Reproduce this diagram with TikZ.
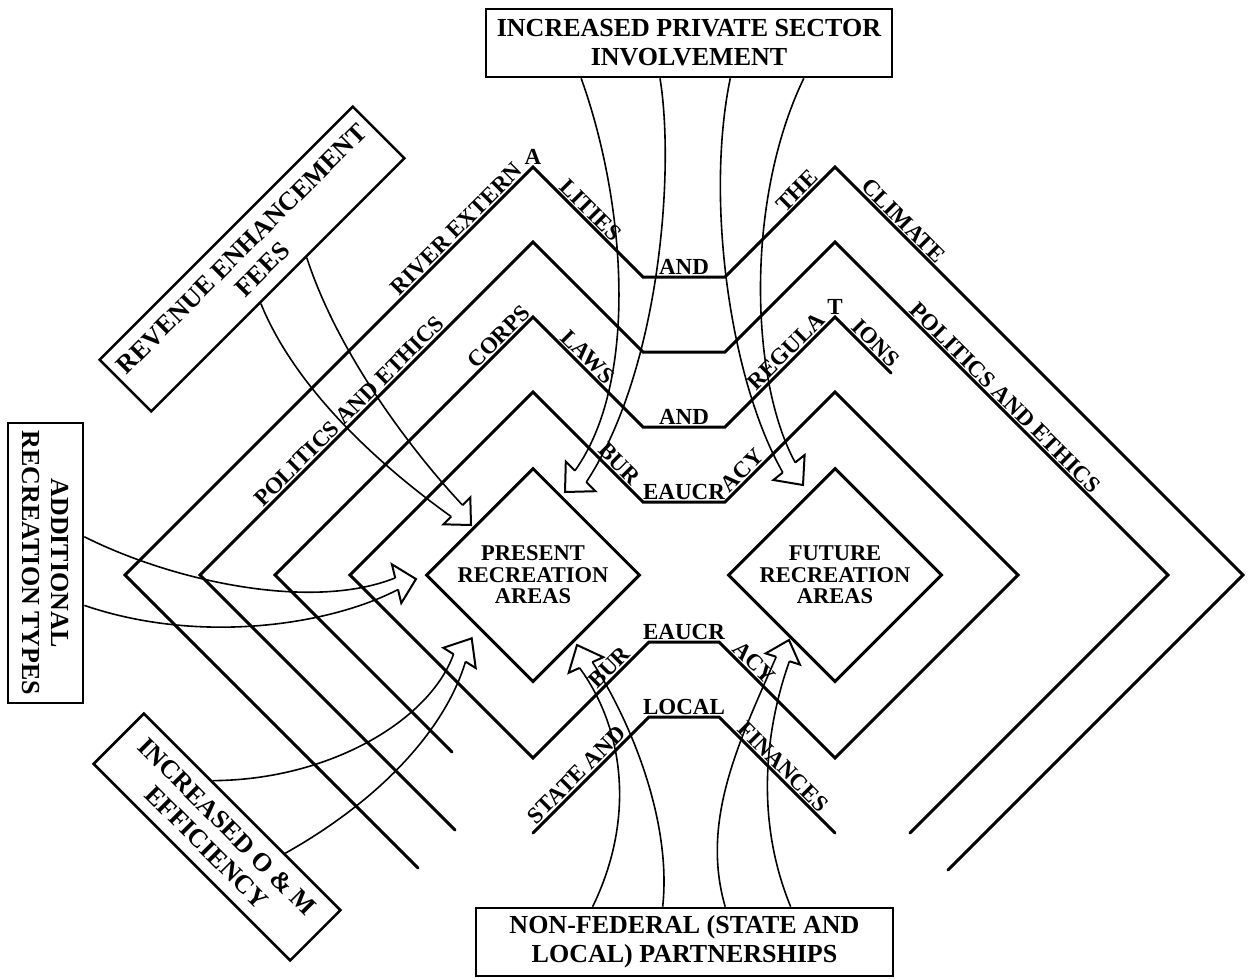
\documentclass[tikz,border=0pt]{standalone}
\usepackage{fontspec}
\setmainfont{Liberation Serif}
\usetikzlibrary{calc,shapes.geometric}
\begin{document}
\begin{tikzpicture}[x=1pt,y=-1pt,
  ring/.style={line width=3pt, line join=miter, line cap=round},
  boxn/.style={draw, line width=2.6pt, font=\fontsize{26}{29}\selectfont\bfseries, align=center, inner sep=2pt},
  lab/.style={font=\fontsize{23}{25}\selectfont\bfseries, inner sep=2.5pt},
  shaft/.style={line width=1.6pt},
  head/.style={line width=2pt, line join=miter},
  dia/.style={diamond, aspect=1, draw, line width=3pt, minimum size=214pt, inner sep=0pt, align=center, font=\fontsize{22.5}{21.5}\selectfont\bfseries}
]
\useasboundingbox (0,0) rectangle (1249,978);

% centres
\coordinate (P) at (533,575);
\coordinate (F) at (835,575);

% ring 1 (bureaucracy)
\coordinate (r1L) at (350,575);
\coordinate (r1TP) at (533,392);
\coordinate (r1a) at (643,502);
\coordinate (r1b) at (725,502);
\coordinate (r1TF) at (835,392);
\coordinate (r1R) at (1018,575);
\coordinate (r1BF) at (835,758);
\coordinate (r1c) at (719,642);
\coordinate (r1d) at (649,642);
\coordinate (r1BP) at (533,758);
% ring 2
\coordinate (r2e) at (452,752);
\coordinate (r2L) at (275,575);
\coordinate (r2TP) at (533,317);
\coordinate (r2a) at (643,427);
\coordinate (r2b) at (725,427);
\coordinate (r2TF) at (835,317);
\coordinate (r2s) at (891,373);
\coordinate (r2BP) at (533,833);
\coordinate (r2d) at (649,717);
\coordinate (r2c) at (719,717);
\coordinate (r2BF) at (835,833);
% ring 3
\coordinate (r3e) at (455,830);
\coordinate (r3L) at (200,575);
\coordinate (r3TP) at (533,242);
\coordinate (r3a) at (643,352);
\coordinate (r3b) at (725,352);
\coordinate (r3TF) at (835,242);
\coordinate (r3R) at (1168,575);
\coordinate (r3f) at (910,833);
% ring 4
\coordinate (r4e) at (418,868);
\coordinate (r4L) at (125,575);
\coordinate (r4TP) at (533,167);
\coordinate (r4a) at (643,277);
\coordinate (r4b) at (725,277);
\coordinate (r4TF) at (835,167);
\coordinate (r4R) at (1243,575);
\coordinate (r4f) at (948,870);

\draw[ring] (r1L) -- (r1TP) -- (r1a) -- (r1b) -- (r1TF) -- (r1R) -- (r1BF) -- (r1c) -- (r1d) -- (r1BP) -- cycle;
\draw[ring] (r2e) -- (r2L) -- (r2TP) -- (r2a) -- (r2b) -- (r2TF) -- (r2s);
\draw[ring] (r2BP) -- (r2d) -- (r2c) -- (r2BF);
\draw[ring] (r3e) -- (r3L) -- (r3TP) -- (r3a) -- (r3b) -- (r3TF) -- (r3R) -- (r3f);
\draw[ring] (r4e) -- (r4L) -- (r4TP) -- (r4a) -- (r4b) -- (r4TF) -- (r4R) -- (r4f);

% ring labels
\path (r4L) -- (r4TP) node[lab,pos=.83,sloped,above] (t1) {RIVER EXTERN};
\node[lab,anchor=south] (t2) at (r4TP) {A};
\path (r4TP) -- (r4a) node[lab,pos=.46,sloped,above] (t3) {LITIES};
\path (r4a) -- (r4b) node[lab,midway,above] (t4) {AND};
\path (r4b) -- (r4TF) node[lab,pos=.72,sloped,above] (t5) {THE};
\path (r4TF) -- (r4R) node[lab,pos=.15,sloped,above] (t6) {CLIMATE};
\path (r3L) -- (r3TP) node[lab,pos=.47,sloped,above] (t7) {POLITICS AND ETHICS};
\path (r3TF) -- (r3R) node[lab,pos=.49,sloped,above] (t8) {POLITICS AND ETHICS};
\path (r2L) -- (r2TP) node[lab,pos=.895,sloped,above] (t9) {CORPS};
\path (r2TP) -- (r2a) node[lab,pos=.43,sloped,above] (t10) {LAWS};
\path (r2a) -- (r2b) node[lab,midway,above] (t11) {AND};
\path (r2b) -- (r2TF) node[lab,pos=.62,sloped,above] (t12) {REGULA};
\node[lab,anchor=south] (t13) at (r2TF) {T};
\path (r2TF) -- (r2s) node[lab,pos=.6,sloped,above] (t14) {IONS};
\path (r1TP) -- (r1a) node[lab,pos=.72,sloped,above] (t15) {BUR};
\path (r1a) -- (r1b) node[lab,midway,above] (t16) {EAUCR};
\path (r1b) -- (r1TF) node[lab,pos=.22,sloped,above] (t17) {ACY};
\path (r1BP) -- (r1d) node[lab,pos=.72,sloped,above] (t18) {BUR};
\path (r1d) -- (r1c) node[lab,midway,above] (t19) {EAUCR};
\path (r1c) -- (r1BF) node[lab,pos=.24,sloped,above] (t20) {ACY};
\path (r2BP) -- (r2d) node[lab,pos=.44,sloped,above] (t21) {STATE AND};
\path (r2d) -- (r2c) node[lab,midway,above] (t22) {LOCAL};
\path (r2c) -- (r2BF) node[lab,pos=.49,sloped,above] (t23) {FINANCES};

% central diamonds
\node[dia] (pres) at (P) {PRESENT\\RECREATION\\AREAS};
\node[dia] (fut) at (F) {FUTURE\\RECREATION\\AREAS};

% boxes
\node[boxn, minimum width=406pt, minimum height=68pt] (topbox) at (689,43) {INCREASED PRIVATE SECTOR\\INVOLVEMENT};
\node[boxn, minimum width=417pt, minimum height=68pt] (botbox) at (684.5,942) {NON-FEDERAL (STATE AND\\LOCAL) PARTNERSHIPS};
\node[boxn, rotate=-90, minimum width=280pt, minimum height=75pt] (addbox) at (45.5,563) {ADDITIONAL\\RECREATION TYPES};
\node[boxn, rotate=45, minimum width=358pt, minimum height=73pt] (revbox) at (252,259) {REVENUE ENHANCEMENT\\FEES};
\node[boxn, rotate=-45, minimum width=278pt, minimum height=71pt] (ombox) at (217,837) {INCREASED O \& M\\EFFICIENCY};

% shaft start points on the boxes
\coordinate (tA) at ($(topbox.south west)!0.236!(topbox.south east)$);
\coordinate (tB) at ($(topbox.south west)!0.429!(topbox.south east)$);
\coordinate (tC) at ($(topbox.south west)!0.601!(topbox.south east)$);
\coordinate (tD) at ($(topbox.south west)!0.781!(topbox.south east)$);
\coordinate (bA) at ($(botbox.north west)!0.281!(botbox.north east)$);
\coordinate (bB) at ($(botbox.north west)!0.448!(botbox.north east)$);
\coordinate (bC) at ($(botbox.north west)!0.597!(botbox.north east)$);
\coordinate (bD) at ($(botbox.north west)!0.753!(botbox.north east)$);
\coordinate (aA) at ($(addbox.north west)!0.407!(addbox.north east)$);
\coordinate (aB) at ($(addbox.north west)!0.65!(addbox.north east)$);
\coordinate (rv1) at ($(revbox.south west)!0.61!(revbox.south east)$);
\coordinate (rv2) at ($(revbox.south west)!0.43!(revbox.south east)$);
\coordinate (oA) at ($(ombox.north west)!0.347!(ombox.north east)$);
\coordinate (oB) at ($(ombox.north west)!0.713!(ombox.north east)$);

% revenue arrow
\coordinate (rT) at (471,525);
\coordinate (rB1) at (470.3,497.5);
\coordinate (rB2) at (443.5,524.3);
\coordinate (rS1) at (462.6,505.2);
\coordinate (rS2) at (451.2,516.6);
\draw[head] (rS1) -- (rB1) -- (rT) -- (rB2) -- (rS2);
\draw[shaft] (rv1) .. controls (340,360) and (420,460) .. (rS1);
\draw[shaft] (rv2) .. controls (300,400) and (400,480) .. (rS2);

% top-left arrow
\coordinate (tlT) at (565,492);
\coordinate (tlB1) at (565.8,461.6);
\coordinate (tlB2) at (595.4,491.2);
\coordinate (tlS1) at (574.9,470.7);
\coordinate (tlS2) at (586.3,482.1);
\draw[head] (tlS1) -- (tlB1) -- (tlT) -- (tlB2) -- (tlS2);
\draw[shaft] (tA) .. controls (625,200) and (640,380) .. (tlS1);
\draw[shaft] (tB) .. controls (675,170) and (660,370) .. (tlS2);

% top-right arrow
\coordinate (trT) at (803,485);
\coordinate (trB1) at (773.4,480);
\coordinate (trB2) at (804.6,455);
\coordinate (trS1) at (782.8,472.5);
\coordinate (trS2) at (795.2,462.5);
\draw[head] (trS1) -- (trB1) -- (trT) -- (trB2) -- (trS2);
\draw[shaft] (tC) .. controls (705,200) and (730,380) .. (trS1);
\draw[shaft] (tD) .. controls (745,200) and (750,380) .. (trS2);

% additional recreation arrow
\coordinate (adT) at (416,579);
\coordinate (adB1) at (391.9,564.3);
\coordinate (adB2) at (401.3,603.1);
\coordinate (adS1) at (395.2,577.9);
\coordinate (adS2) at (398,589.5);
\draw[head] (adS1) -- (adB1) -- (adT) -- (adB2) -- (adS2);
\draw[shaft] (aA) .. controls (170,580) and (310,612) .. (adS1);
\draw[shaft] (aB) .. controls (200,645) and (330,625) .. (adS2);

% O&M arrow
\coordinate (omT) at (471.7,638.3);
\coordinate (omB1) at (443.4,647.8);
\coordinate (omB2) at (475.7,668);
\coordinate (omS1) at (453.5,654.2);
\coordinate (omS2) at (465.5,661.6);
\draw[head] (omS1) -- (omB1) -- (omT) -- (omB2) -- (omS2);
\draw[shaft] (oA) .. controls (330,780) and (430,720) .. (omS1);
\draw[shaft] (oB) .. controls (380,800) and (445,730) .. (omS2);

% bottom-left arrow
\coordinate (blT) at (577,645);
\coordinate (blB1) at (568.7,672.8);
\coordinate (blB2) at (603.3,657.2);
\coordinate (blS1) at (579.6,667.9);
\coordinate (blS2) at (592.4,662.1);
\draw[head] (blS1) -- (blB1) -- (blT) -- (blB2) -- (blS2);
\draw[shaft] (bA) .. controls (635,820) and (625,730) .. (blS1);
\draw[shaft] (bB) .. controls (672,820) and (630,720) .. (blS2);

% bottom-right arrow
\coordinate (brT) at (789,640);
\coordinate (brB1) at (765.7,653.4);
\coordinate (brB2) at (799.9,664.6);
\coordinate (brS1) at (776.2,656.8);
\coordinate (brS2) at (789.4,661.2);
\draw[head] (brS1) -- (brB1) -- (brT) -- (brB2) -- (brS2);
\draw[shaft] (bC) .. controls (700,820) and (740,740) .. (brS1);
\draw[shaft] (bD) .. controls (755,820) and (765,730) .. (brS2);
\end{tikzpicture}
\end{document}
